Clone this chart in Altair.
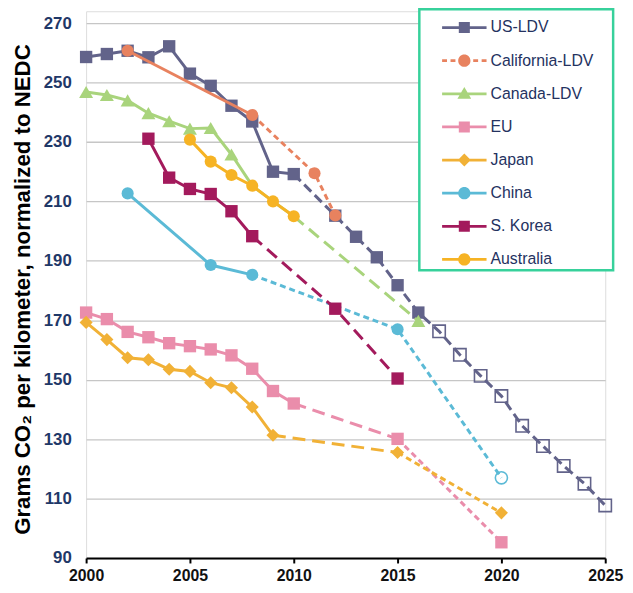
import altair as alt
import pandas as pd

# ---------------- data ----------------
series_names = ["US-LDV", "California-LDV", "Canada-LDV", "EU", "Japan", "China", "S. Korea", "Australia"]
series_colors = ["#62638a", "#e8825f", "#a9d47c", "#ea8dab", "#f1b136", "#5bbad6", "#a31a5c", "#f6b324"]
series_shapes = ["square", "circle", "triangle-up", "square", "diamond", "circle", "square", "circle"]

us_years = [2000, 2001, 2002, 2003, 2004, 2005, 2006, 2007, 2008, 2009, 2010, 2012, 2013, 2014, 2015, 2016,
            2017, 2018, 2019, 2020, 2021, 2022, 2023, 2024, 2025]
us_values = [258.6, 259.6, 260.7, 258.5, 262.2, 253.0, 248.9, 242.2, 236.9, 220.0, 219.2, 205.2, 198.1, 191.2, 181.8, 172.6,
             166.3, 158.4, 151.3, 144.5, 134.5, 127.7, 121.0, 115.0, 107.7]
us_markers = ["filled"] * 16 + ["open"] * 9

ca_years = [2002, 2008, 2011, 2012]
ca_values = [260.7, 239.1, 219.5, 205.3]
ca_markers = ["filled"] * 4

cn_years = [2000, 2001, 2002, 2003, 2004, 2005, 2006, 2007, 2008, 2009, 2010, 2016]
cn_values = [246.8, 245.8, 244.0, 239.7, 237.0, 234.5, 234.7, 225.8, 215.3, 210.0, 205.0, 169.8]
cn_markers = ["filled"] * 8 + ["none"] * 3 + ["filled"]

eu_years = [2000, 2001, 2002, 2003, 2004, 2005, 2006, 2007, 2008, 2009, 2010, 2015, 2020]
eu_values = [172.6, 170.4, 166.1, 164.3, 162.3, 161.3, 160.2, 158.2, 153.7, 146.2, 142.0, 130.1, 95.3]
eu_markers = ["filled"] * 13

jp_years = [2000, 2001, 2002, 2003, 2004, 2005, 2006, 2007, 2008, 2009, 2015, 2020]
jp_values = [169.3, 163.5, 157.4, 156.7, 153.5, 152.8, 149.0, 147.3, 140.8, 131.3, 125.5, 105.2]
jp_markers = ["filled"] * 12

ch_years = [2002, 2006, 2008, 2015, 2020]
ch_values = [212.7, 188.6, 185.3, 167.0, 117.0]
ch_markers = ["filled"] * 4 + ["open"]

kr_years = [2003, 2004, 2005, 2006, 2007, 2008, 2012, 2015]
kr_values = [231.1, 218.0, 214.2, 212.5, 206.7, 198.3, 173.9, 150.4]
kr_markers = ["filled"] * 8

au_years = [2005, 2006, 2007, 2008, 2009, 2010]
au_values = [230.8, 223.4, 218.9, 215.3, 210.0, 205.0]
au_markers = ["filled"] * 6

# line segments: (from year, to year, line style)
us_segments = [(2000, 2010, "solid"), (2010, 2025, "medium")]
ca_segments = [(2002, 2008, "solid"), (2008, 2012, "short")]
cn_segments = [(2000, 2010, "solid"), (2010, 2016, "long")]
eu_segments = [(2000, 2010, "solid"), (2010, 2015, "long"), (2015, 2020, "short")]
jp_segments = [(2000, 2009, "solid"), (2009, 2015, "long"), (2015, 2020, "short")]
ch_segments = [(2002, 2008, "solid"), (2008, 2020, "short")]
kr_segments = [(2003, 2008, "solid"), (2008, 2015, "long")]
au_segments = [(2005, 2010, "solid")]

x_ticks = [2000, 2005, 2010, 2015, 2020, 2025]
y_ticks = [90, 110, 130, 150, 170, 190, 210, 230, 250, 270]

series_data = [
    (us_years, us_values, us_markers, us_segments),
    (ca_years, ca_values, ca_markers, ca_segments),
    (cn_years, cn_values, cn_markers, cn_segments),
    (eu_years, eu_values, eu_markers, eu_segments),
    (jp_years, jp_values, jp_markers, jp_segments),
    (ch_years, ch_values, ch_markers, ch_segments),
    (kr_years, kr_values, kr_markers, kr_segments),
    (au_years, au_values, au_markers, au_segments),
]

# ---------------- styles ----------------
dash_styles = {"medium": [10, 5], "long": [13, 7], "short": [6, 4]}
marker_sizes = {"square": 156, "circle": 150, "triangle-up": 200, "diamond": 175}


def rect(x1, x2, t=0.09):
    return f"M{x1},{-t}H{x2}V{t}H{x1}Z"


line_full = rect(-1.45, 1.45)
line_dashed = rect(-1.45, -1.13) + rect(-0.90, -0.58) + rect(0.58, 0.90) + rect(1.13, 1.45)
sq = "M-0.36,-0.36H0.36V0.36H-0.36Z"
circ = "M0.4,0A0.4,0.4 0 1,1 -0.4,0A0.4,0.4 0 1,1 0.4,0Z"
tri = "M0,-0.44L0.45,0.32L-0.45,0.32Z"
dia = "M0,-0.42L0.42,0L0,0.42L-0.42,0Z"
legend_paths = [
    line_full + sq,
    line_dashed + circ,
    line_full + tri,
    line_full + sq,
    line_full + dia,
    line_full + circ,
    line_full + sq,
    line_full + circ,
]

x_scale = alt.Scale(domain=[2000, 2025], nice=False, zero=False)
y_scale = alt.Scale(domain=[90, 274], nice=False, zero=False)

x_axis = alt.Axis(
    values=x_ticks, format="d", grid=False, domain=True, domainColor="#000000", domainWidth=2,
    ticks=True, tickColor="#000000", tickSize=5, tickWidth=2, labelFlush=False,
    labelFont="Liberation Sans", labelFontSize=16, labelFontWeight="bold", labelColor="#111111",
    labelPadding=5, title=None,
)
y_axis = alt.Axis(
    values=y_ticks, grid=True, gridColor="#c6c6c6", gridWidth=1.3, domain=False, ticks=False,
    labelFont="Liberation Sans", labelFontSize=17, labelFontWeight="bold", labelColor="#1f3868",
    labelPadding=15,
    title="Grams CO\u2082 per kilometer, normalized to NEDC",
    titleFont="Liberation Sans", titleFontSize=22.5, titleFontWeight="bold", titleColor="#000000",
    titleAngle=270, titleAlign="center", titleBaseline="middle", titleX=-64.5, titleY=281,
)

layers = []
for name, color, shape, (yrs, vals, mks, segs) in zip(series_names, series_colors, series_shapes, series_data):
    df = pd.DataFrame({"year": yrs, "value": vals, "marker": mks})
    for (a, b, style) in segs:
        seg = df[(df["year"] >= a) & (df["year"] <= b)]
        kw = dict(color=color, strokeWidth=3, strokeCap="butt")
        if style != "solid":
            kw["strokeDash"] = dash_styles[style]
        layers.append(
            alt.Chart(seg).mark_line(**kw).encode(
                x=alt.X("year:Q", scale=x_scale, axis=x_axis),
                y=alt.Y("value:Q", scale=y_scale, axis=y_axis),
            )
        )
    filled = df[df["marker"] == "filled"]
    if len(filled):
        layers.append(
            alt.Chart(filled).mark_point(shape=shape, filled=True, size=marker_sizes[shape], color=color,
                                         opacity=1, strokeWidth=0).encode(
                x=alt.X("year:Q", scale=x_scale, axis=x_axis),
                y=alt.Y("value:Q", scale=y_scale, axis=y_axis),
            )
        )
    opened = df[df["marker"] == "open"]
    if len(opened):
        layers.append(
            alt.Chart(opened).mark_point(shape=shape, filled=False, size=marker_sizes[shape], color=color,
                                         opacity=1, strokeWidth=1.6).encode(
                x=alt.X("year:Q", scale=x_scale, axis=x_axis),
                y=alt.Y("value:Q", scale=y_scale, axis=y_axis),
            )
        )

legend_df = pd.DataFrame({"series": series_names, "year": [2000] * len(series_names),
                          "value": [None] * len(series_names)})


def make_legend():
    return alt.Legend(
        title="\u00a0", titleOrient="right", titleFontSize=10, titlePadding=17, titleColor="#ffffff",
        orient="none", legendX=337, legendY=-2, direction="vertical",
        padding=3, rowPadding=9.5, symbolSize=961, symbolStrokeWidth=0, symbolOpacity=1,
        symbolOffset=27, labelOffset=11,
        labelFont="Liberation Sans", labelFontSize=16, labelColor="#24325f",
        strokeColor="#37d19b", fillColor="#ffffff",
    )


layers.append(
    alt.Chart(legend_df).mark_point(filled=True, opacity=1).encode(
        x=alt.X("year:Q", scale=x_scale, axis=x_axis),
        y=alt.Y("value:Q", scale=y_scale, axis=y_axis),
        color=alt.Color("series:N", scale=alt.Scale(domain=series_names, range=series_colors),
                        legend=make_legend()),
        shape=alt.Shape("series:N", scale=alt.Scale(domain=series_names, range=legend_paths),
                        legend=make_legend()),
    )
)

chart = alt.layer(*layers).properties(
    width=525, height=553,
    padding={"left": 79, "top": 0, "right": 20, "bottom": 24},
    autosize=alt.AutoSizeParams(type="none"),
).configure_view(stroke=None).configure(font="Liberation Sans").configure_legend(strokeWidth=2.5)

chart.save("out.html", embed_options={"renderer": "svg", "actions": False})
